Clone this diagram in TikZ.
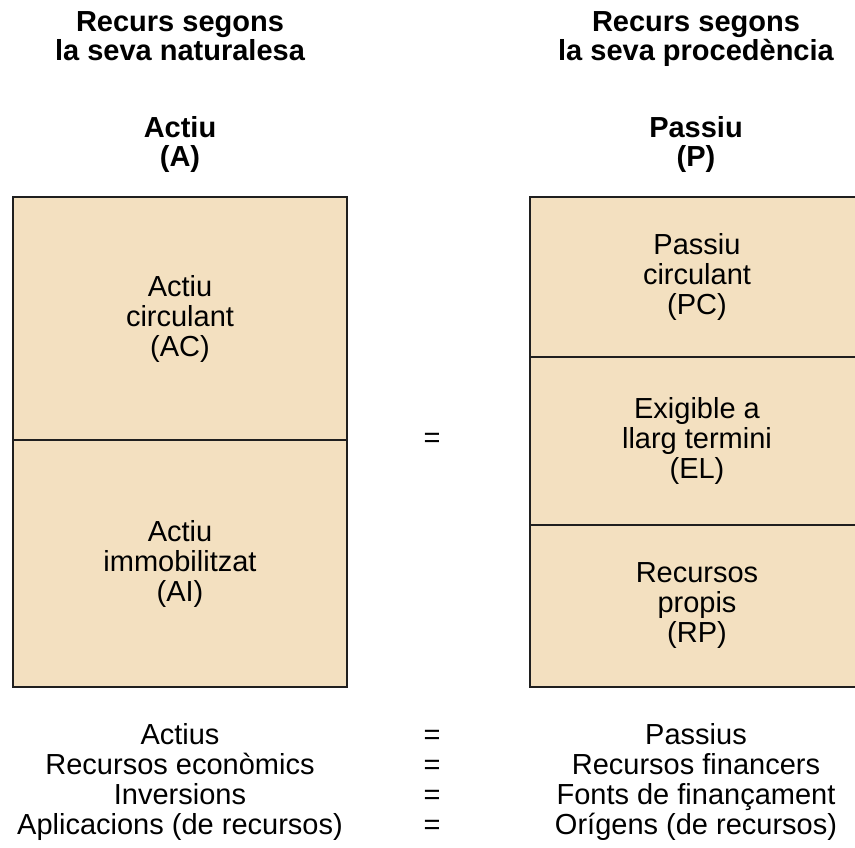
\documentclass[tikz,border=0pt]{standalone}
\usepackage{fontspec}
\setmainfont{Liberation Sans}
\begin{document}
\begin{tikzpicture}[x=1pt,y=-1pt,
  txt/.style={inner sep=0pt,align=center,font=\fontsize{29}{30}\selectfont},
  head/.style={txt,font=\fontsize{29}{29}\selectfont\bfseries},
  part/.style={txt,draw=black!88,line width=2pt,fill=boxfill,minimum width=#1},
]
\definecolor{boxfill}{RGB}{243,224,192}
\useasboundingbox (0,0) rectangle (855,847);
\clip (0,0) rectangle (855,847);

% column headings (phantoms keep both heading boxes the same height)
\node[head] (hl) at (180,39) {Recurs segons\\la seva naturalesa\vphantom{èp}};
\node[head] (hr) at (696,39) {Recurs segons\\la seva procedència\vphantom{èp}};
\node[head] (al) at (180,144) {Actiu\\(A)};
\node[head] (pr) at (696,144) {Passiu\\(P)};

% assets side
\node[part=334, minimum height=243] (ac) at (180,318.5) {Actiu\\circulant\\(AC)};
\node[part=334, minimum height=247] (ai) at (180,563.5) {Actiu\\immobilitzat\\(AI)};

% liabilities side
\node[part=334, minimum height=160] (pc) at (697,277) {Passiu\\circulant\\(PC)};
\node[part=334, minimum height=168] (el) at (697,441) {Exigible a\\llarg termini\\(EL)};
\node[part=334, minimum height=162] (rp) at (697,606) {Recursos\\propis\\(RP)};

\node[txt] (eq) at (432,440) {=};

% equivalent names
\node[txt] (nl) at (180,782) {Actius\\Recursos econòmics\\Inversions\\Aplicacions (de recursos)};
\node[txt] (ne) at (432,782) {=\\=\\=\\=};
\node[txt] (nr) at (696,782) {Passius\\Recursos financers\\Fonts de finançament\\Orígens (de recursos)};
\end{tikzpicture}
\end{document}
